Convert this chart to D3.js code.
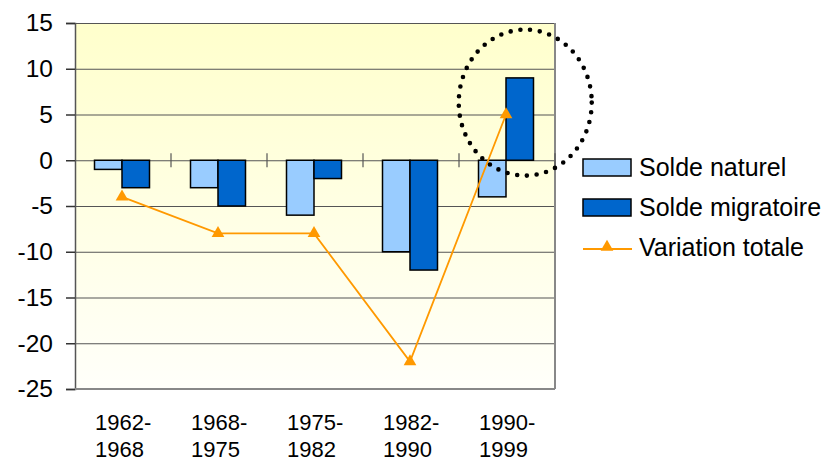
<!DOCTYPE html>
<html>
<head>
<meta charset="utf-8">
<script src="https://cdn.jsdelivr.net/npm/d3@7"></script>
<style>
  body { margin: 0; background: #fff; }
  svg text { font-family: 'Liberation Sans', Arial, sans-serif; fill: #000; }
</style>
</head>
<body>
<div id="chart"></div>
<script>
// Data
const periodes = ['1962-1968', '1968-1975', '1975-1982', '1982-1990', '1990-1999']
const soldeNaturel = [-1, -3, -6, -10, -4]
const soldeMigratoire = [-3, -5, -2, -12, 9]
const variationTotale = [-4, -8, -8, -22, 5]
const yTicks = [15, 10, 5, 0, -5, -10, -15, -20, -25]
const seriesNames = ['Solde naturel', 'Solde migratoire', 'Variation totale']

const margin = { top: 23, left: 75, right: 274, bottom: 72 }
const width = 829 - margin.left - margin.right
const height = 461 - margin.top - margin.bottom

const svg = d3
  .select('#chart')
  .append('svg')
  .attr('width', 829)
  .attr('height', 461)

const g = svg
  .append('g')
  .attr('transform', 'translate(' + margin.left + ',' + margin.top + ')')

// Scales
const xScale = d3.scaleBand().domain(periodes).range([0, width])
const yScale = d3.scaleLinear().domain([-25, 15]).range([height, 0])
const colors = { naturel: '#99ccff', migratoire: '#0066cc', total: '#ff9900' }

// background gradient
const grad = svg.append('defs').append('linearGradient')
  .attr('id', 'bg').attr('x1', 0).attr('y1', 0).attr('x2', 0).attr('y2', 1)
grad.append('stop').attr('offset', '0%').attr('stop-color', '#ffffcc')
grad.append('stop').attr('offset', '100%').attr('stop-color', '#fffffa')

g.append('rect')
  .attr('width', width)
  .attr('height', height)
  .attr('fill', 'url(#bg)')

// gridlines + y axis
const yAxis = d3.axisLeft(yScale)
  .tickValues(yTicks)
  .tickSize(9)
  .tickPadding(13)
  .tickFormat(d => String(d))

g.append('g')
  .attr('class', 'grid')
  .call(d3.axisLeft(yScale).tickValues(yTicks).tickSize(-width).tickFormat(''))
  .call(s => s.select('.domain').remove())
  .selectAll('line').attr('stroke', '#555').attr('stroke-width', 1.2)

g.append('g')
  .attr('class', 'y-axis')
  .call(yAxis)
  .call(s => s.select('.domain').attr('stroke', '#555').attr('stroke-width', 1.5))
  .call(s => s.selectAll('line').attr('stroke', '#333').attr('stroke-width', 1.5))
  .call(s => s.selectAll('text').attr('font-size', 24.5).attr('font-family', "'Liberation Sans', Arial, sans-serif"))

// right + bottom border
g.append('line').attr('x1', width).attr('x2', width).attr('y1', 0).attr('y2', height)
  .attr('stroke', '#888').attr('stroke-width', 2)
g.append('line').attr('x1', 0).attr('x2', width).attr('y1', height).attr('y2', height)
  .attr('stroke', '#888').attr('stroke-width', 2)

// category ticks on zero line
g.selectAll('.cat-tick')
  .data(periodes)
  .enter()
  .append('line')
  .attr('x1', d => xScale(d) + xScale.bandwidth())
  .attr('x2', d => xScale(d) + xScale.bandwidth())
  .attr('y1', yScale(0) - 7)
  .attr('y2', yScale(0) + 7)
  .attr('stroke', '#555')
  .attr('stroke-width', 1.2)

// bars
const barW = 27.5
const barOffset = xScale.bandwidth() / 2 - 1
g.selectAll('.bar-naturel')
  .data(soldeNaturel)
  .enter()
  .append('rect')
  .attr('x', (d, i) => xScale(periodes[i]) + barOffset - barW)
  .attr('y', d => yScale(Math.max(0, d)))
  .attr('width', barW)
  .attr('height', d => Math.abs(yScale(d) - yScale(0)))
  .attr('fill', colors.naturel)
  .attr('stroke', '#000')
  .attr('stroke-width', 1.5)

g.selectAll('.bar-migratoire')
  .data(soldeMigratoire)
  .enter()
  .append('rect')
  .attr('x', (d, i) => xScale(periodes[i]) + barOffset)
  .attr('y', d => yScale(Math.max(0, d)))
  .attr('width', barW)
  .attr('height', d => Math.abs(yScale(d) - yScale(0)))
  .attr('fill', colors.migratoire)
  .attr('stroke', '#000')
  .attr('stroke-width', 1.5)

// line
const line = d3.line()
  .x((d, i) => xScale(periodes[i]) + barOffset)
  .y(d => yScale(d))

g.append('path')
  .datum(variationTotale)
  .attr('d', line)
  .attr('fill', 'none')
  .attr('stroke', colors.total)
  .attr('stroke-width', 1.8)

const tri = d3.symbol(d3.symbolTriangle, 70)
g.selectAll('.marker')
  .data(variationTotale)
  .enter()
  .append('path')
  .attr('d', tri)
  .attr('transform', (d, i) => 'translate(' + (xScale(periodes[i]) + barOffset) + ',' + yScale(d) + ')')
  .attr('fill', colors.total)

// x labels (two lines)
g.selectAll('.x-label')
  .data(periodes)
  .enter()
  .append('text')
  .attr('x', d => xScale(d) + barOffset - 27)
  .attr('y', height + 41)
  .attr('font-size', 22)
  .each(function(d) {
    const parts = d.split('-')
    d3.select(this).append('tspan').text(parts[0] + '-')
    d3.select(this).append('tspan')
      .attr('x', xScale(d) + barOffset - 27)
      .attr('dy', 27)
      .text(parts[1])
  })

// dotted annotation circle around last migratoire bar
const last = periodes[periodes.length - 1]
svg.append('ellipse')
  .attr('cx', margin.left + xScale(last) + xScale.bandwidth() * 0.69)
  .attr('cy', margin.top + yScale(6.3))
  .attr('rx', 66.5)
  .attr('ry', 73)
  .attr('fill', 'none')
  .attr('stroke', '#000')
  .attr('stroke-width', 4.6)
  .attr('stroke-linecap', 'round')
  .attr('stroke-dasharray', '0 9.8')

// legend
const legend = svg.append('g').attr('transform', 'translate(583,159)')
legend.append('rect')
  .attr('width', 48).attr('height', 17)
  .attr('fill', colors.naturel).attr('stroke', '#000').attr('stroke-width', 1.5)
legend.append('rect')
  .attr('y', 40).attr('width', 48).attr('height', 17)
  .attr('fill', colors.migratoire).attr('stroke', '#000').attr('stroke-width', 1.5)
legend.append('line')
  .attr('x1', 0).attr('x2', 49).attr('y1', 90).attr('y2', 90)
  .attr('stroke', colors.total).attr('stroke-width', 1.8)
legend.append('path')
  .attr('d', tri)
  .attr('transform', 'translate(24,88)')
  .attr('fill', colors.total)

legend.selectAll('.legend-text')
  .data(seriesNames)
  .enter()
  .append('text')
  .attr('x', 56)
  .attr('y', (d, i) => 17 + i * 40)
  .attr('font-size', 25)
  .text(d => d)
</script>
</body>
</html>
